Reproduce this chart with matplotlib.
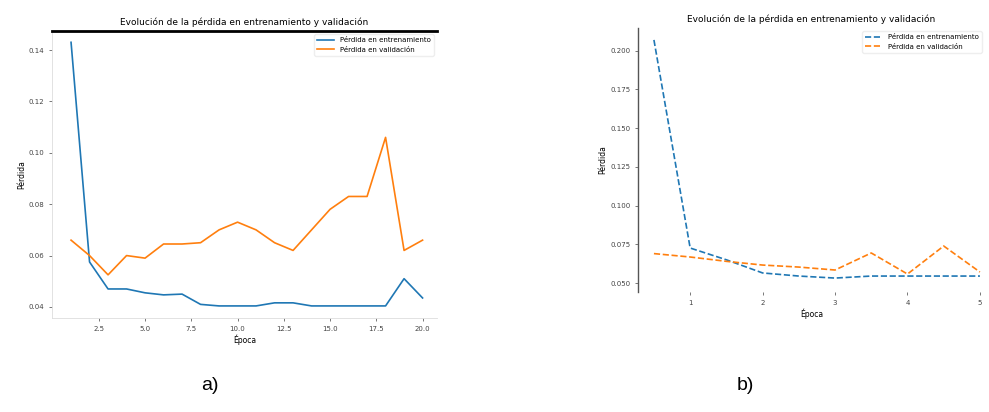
import matplotlib
matplotlib.use("Agg")
import matplotlib.pyplot as plt

# ---- Panel a) data ----
epochs_a = list(range(1, 21))
train_a = [0.143, 0.0575, 0.047, 0.047, 0.0455, 0.0447, 0.045, 0.041, 0.0404, 0.0404,
           0.0404, 0.0416, 0.0416, 0.0404, 0.0404, 0.0404, 0.0404, 0.0404, 0.051, 0.0435]
val_a = [0.066, 0.060, 0.0525, 0.060, 0.059, 0.0645, 0.0645, 0.065, 0.070, 0.073,
         0.070, 0.065, 0.062, 0.070, 0.078, 0.083, 0.083, 0.106, 0.062, 0.066]
yticks_a = [0.04, 0.06, 0.08, 0.10, 0.12, 0.14]
xticks_a = [2.5, 5.0, 7.5, 10.0, 12.5, 15.0, 17.5, 20.0]

# ---- Panel b) data ----
epochs_b = [0.5, 1.0, 1.5, 2.0, 2.5, 3.0, 3.5, 4.0, 4.5, 5.0]
train_b = [0.207, 0.0726, 0.065, 0.0565, 0.0545, 0.0532, 0.0545, 0.0545, 0.0545, 0.0545]
val_b = [0.069, 0.0668, 0.064, 0.0616, 0.0603, 0.0584, 0.0694, 0.0558, 0.0739, 0.0571]
yticks_b = [0.050, 0.075, 0.100, 0.125, 0.150, 0.175, 0.200]
xticks_b = [1, 2, 3, 4, 5]

title = "Evolución de la pérdida en entrenamiento y validación"
lab_train = "Pérdida en entrenamiento"
lab_val = "Pérdida en validación"

BLUE = "#1f77b4"
ORANGE = "#ff7f0e"

fig = plt.figure(figsize=(9.89, 4.12), dpi=100)

# Panel a
ax1 = fig.add_axes([52/989, 1-318/412, (437-52)/989, (318-31)/412])
ax1.plot(epochs_a, train_a, color=BLUE, lw=1.2, ls="-", label=lab_train)
ax1.plot(epochs_a, val_a, color=ORANGE, lw=1.2, ls="-", label=lab_val)
ax1.set_xlim(-0.03, 20.78)
ax1.set_ylim(0.0357, 0.1474)
ax1.set_xticks(xticks_a)
ax1.set_yticks(yticks_a)
ax1.set_xticklabels([f"{v:.1f}" for v in xticks_a])
ax1.set_yticklabels([f"{v:.2f}" for v in yticks_a])
ax1.tick_params(labelsize=5, length=2, width=0.5, colors="#444444")
ax1.set_title(title, fontsize=6.5, pad=4)
ax1.set_xlabel("Época", fontsize=5.5, labelpad=2)
ax1.set_ylabel("Pérdida", fontsize=5.5, labelpad=2)
ax1.spines["top"].set_linewidth(2)
ax1.spines["top"].set_color("black")
for s in ["left", "bottom"]:
    ax1.spines[s].set_color("#dddddd")
    ax1.spines[s].set_linewidth(0.6)
ax1.spines["right"].set_visible(False)
ax1.legend(fontsize=5, loc="upper right", frameon=True, framealpha=1,
           edgecolor="#eeeeee", handlelength=2.5)

# Panel b
ax2 = fig.add_axes([638/989, 1-292/412, (985-638)/989, (292-28)/412])
ax2.plot(epochs_b, train_b, color=BLUE, lw=1.2, ls="--", label=lab_train)
ax2.plot(epochs_b, val_b, color=ORANGE, lw=1.2, ls="--", label=lab_val)
ax2.set_xlim(0.28, 5.07)
ax2.set_ylim(0.0442, 0.2147)
ax2.set_xticks(xticks_b)
ax2.set_yticks(yticks_b)
ax2.set_yticklabels([f"{v:.3f}" for v in yticks_b])
ax2.tick_params(labelsize=5, length=2, width=0.5, colors="#444444")
ax2.set_title(title, fontsize=6.5, pad=4)
ax2.set_xlabel("Época", fontsize=5.5, labelpad=2)
ax2.set_ylabel("Pérdida", fontsize=5.5, labelpad=2)
ax2.spines["left"].set_color("#555555")
ax2.spines["left"].set_linewidth(1.0)
ax2.spines["top"].set_visible(False)
ax2.spines["right"].set_visible(False)
ax2.spines["bottom"].set_visible(False)
ax2.legend(fontsize=5, loc="upper right", frameon=True, framealpha=1,
           edgecolor="#eeeeee", handlelength=2.5)

# Captions
fig.text(210/989, 1-385/412, "a)", fontsize=14, family="Liberation Sans",
         ha="center", va="center")
fig.text(745/989, 1-385/412, "b)", fontsize=14, family="Liberation Sans",
         ha="center", va="center")

fig.savefig("out.png", dpi=100)
